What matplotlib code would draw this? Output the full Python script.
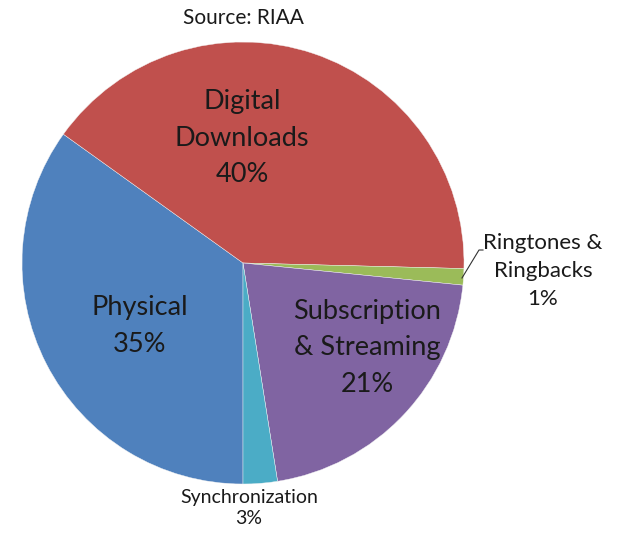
import matplotlib.pyplot as plt

# revenue shares (%), clockwise starting from the bottom of the pie
labels = ['Physical', 'Digital\nDownloads', 'Ringtones &\nRingbacks', 'Subscription\n& Streaming', 'Synchronization']
shares = [34.9, 40.5, 1.2, 20.9, 2.5]
shown = ['35%', '40%', '1%', '21%', '3%']
colors = ['#4F81BD', '#C0504D', '#9BBB59', '#8064A2', '#4BACC6']

plt.rcParams['font.family'] = ['Lato', 'DejaVu Sans']

fig = plt.figure(figsize=(6.18, 5.33), dpi=100)
W, H = 618, 533
cx, cy, r = 243, 263, 221
ax = fig.add_axes([(cx - r) / W, (H - cy - r) / H, 2 * r / W, 2 * r / H])

ax.pie(shares, colors=colors, startangle=-90, counterclock=False, radius=1,
       wedgeprops=dict(linewidth=0.3, edgecolor='#f4f4f4'))
ax.set_xlim(-1, 1)
ax.set_ylim(-1, 1)
ax.set_aspect('equal')
ax.axis('off')

def px(x, y):
    return (x - cx) / r, (cy - y) / r

txt = '#1a1a1a'
# label positions in pixels (center of text block)
pos = [(140, 326), (242, 138), (543, 271), (367, 348), (249, 508)]
sizes = [19.5, 19.5, 16, 19.5, 14]
spacing = [1.62, 1.6, 1.52, 1.6, 1.3]
for lab, s, p, fs, ls in zip(labels, shown, pos, sizes, spacing):
    x, y = px(*p)
    ax.text(x, y, lab + '\n' + s, ha='center', va='center', fontsize=fs,
            color=txt, linespacing=ls, clip_on=False)

# leader line for the small slice
lx, ly = zip(px(462, 278), px(479, 250), px(483, 250))
ax.plot(lx, ly, color='#333333', lw=0.8, clip_on=False)

x, y = px(243, 18)
ax.text(x, y, 'Source: RIAA', ha='center', va='center', fontsize=15,
        color=txt, clip_on=False)

fig.savefig('out.png', dpi=100)
